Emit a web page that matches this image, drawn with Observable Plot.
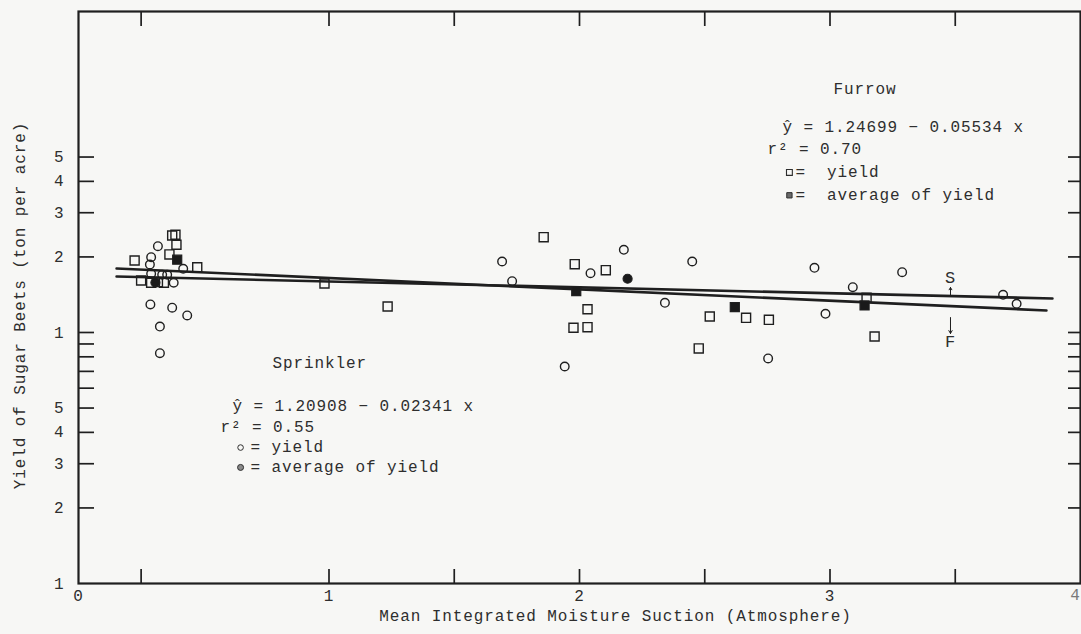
<!DOCTYPE html>
<html><head><meta charset="utf-8">
<script src="https://cdn.jsdelivr.net/npm/d3@7"></script>
<script src="https://cdn.jsdelivr.net/npm/@observablehq/plot@0.6"></script>
<style>
html,body{margin:0;padding:0;background:#f7f7f5;}
</style></head><body><div id="chart"></div>
<script>
// Furrow yields (open squares)
const furrowX = [0.374,0.387,0.391,0.224,0.363,0.474,0.250,0.290,0.317,0.341,0.982,1.234,1.857,1.981,2.105,2.032,1.976,2.032,2.520,2.665,2.756,2.476,3.146,3.178];
const furrowY = [24.35,24.5,22.36,19.36,20.46,18.2,16.12,15.78,15.87,15.78,15.67,12.69,23.97,18.71,17.71,12.38,10.44,10.50,11.58,11.44,11.23,8.64,13.75,9.64];
// Furrow averages (filled squares)
const furrowAvgX = [0.394,1.987,2.620,3.138];
const furrowAvgY = [19.49,14.61,12.61,12.81];
// Sprinkler yields (open circles)
const sprinklerX = [0.317,0.290,0.285,0.418,0.290,0.334,0.354,0.380,0.287,0.374,0.434,0.325,0.325,1.691,1.731,2.044,2.177,2.341,2.450,1.941,2.753,2.938,3.288,3.091,2.982,3.691,3.745];
const sprinklerY = [22.07,19.95,18.66,17.94,17.13,16.98,16.98,15.78,12.93,12.55,11.69,10.56,8.27,19.18,16.01,17.23,21.35,13.13,19.18,7.32,7.88,18.1,17.39,15.15,11.87,14.13,13.01];
// Sprinkler averages (filled circles)
const sprinklerAvgX = [0.307,2.192];
const sprinklerAvgY = [15.82,16.37];
// Fitted lines (end points)
const furrowLineX = [0.152,3.864];
const furrowLineY = [17.99,12.24];
const sprinklerLineX = [0.152,3.888];
const sprinklerLineY = [16.72,13.66];
// Axis ticks
const xTickLabels = [0,1,2,3];
const xInnerTicks = [0.25,1,1.5,2,2.5,3,3.5];
const yTickLabels = [1,2,3,4,5,6,8,10,20,30,40,50];
const yInnerTicks = [2,3,4,5,6,7,8,9,10,20,30,40,50];

const zip = (xs, ys) => xs.map((x,i) => ({x, y: ys[i]}));
const furrow = zip(furrowX, furrowY);
const furrowAvg = zip(furrowAvgX, furrowAvgY);
const sprinkler = zip(sprinklerX, sprinklerY);
const sprinklerAvg = zip(sprinklerAvgX, sprinklerAvgY);
const furrowLine = zip(furrowLineX, furrowLineY);
const sprinklerLine = zip(sprinklerLineX, sprinklerLineY);

const ink = "#1f1f1f";
const txt = "#2e2e2e";

const chart = Plot.plot({
  width: 1081,
  height: 634,
  marginLeft: 78,
  marginRight: 1,
  marginTop: 11,
  marginBottom: 51,
  style: {fontFamily: "'Liberation Mono', 'DejaVu Sans Mono', monospace", fontSize: "16px", letterSpacing: "0.9px", background: "#f7f7f5", color: txt},
  x: {domain: [0, 4]},
  y: {type: "log", domain: [1, 190]},
  marks: [
    Plot.frame({stroke: ink, strokeWidth: 2.2}),
    // inner tick marks
    Plot.axisY({ticks: yInnerTicks, tickSize: 16, dx: 16, tickFormat: () => "", label: null, stroke: ink, strokeWidth: 1.7}),
    Plot.axisY({anchor: "right", ticks: yInnerTicks, tickSize: 13, dx: -13, tickFormat: () => "", label: null, stroke: ink, strokeWidth: 1.7}),
    Plot.axisX({anchor: "top", ticks: xInnerTicks, tickSize: 14, dy: 14, tickFormat: () => "", label: null, stroke: ink, strokeWidth: 1.7}),
    Plot.axisX({anchor: "bottom", ticks: xInnerTicks, tickSize: 14, dy: -14, tickFormat: () => "", label: null, stroke: ink, strokeWidth: 1.7}),
    // tick labels
    Plot.axisY({ticks: yTickLabels, tickSize: 0, tickPadding: 14, tickFormat: d => String(d >= 10 ? d / 10 : d), label: null, fill: txt}),
    Plot.axisX({ticks: xTickLabels, tickSize: 0, tickPadding: 6, tickFormat: d => String(d), label: null, fill: txt}),
    Plot.text([4], {x: d => d, frameAnchor: "bottom", dy: 16, dx: -5, fill: "#7a7a7a", text: d => String(d)}),
    // axis titles
    Plot.text(["Yield of Sugar Beets (ton per acre)"], {frameAnchor: "left", textAnchor: "middle", dx: -59, dy: 8, rotate: -90, fill: txt}),
    Plot.text(["Mean Integrated Moisture Suction (Atmosphere)"], {frameAnchor: "bottom", dx: 36, dy: 37, lineAnchor: "bottom", fill: txt}),
    // fitted lines
    Plot.line(furrowLine, {x: "x", y: "y", stroke: ink, strokeWidth: 2.6}),
    Plot.line(sprinklerLine, {x: "x", y: "y", stroke: ink, strokeWidth: 2.6}),
    // points
    Plot.dot(furrow, {x: "x", y: "y", symbol: "square", r: 5.1, stroke: ink, strokeWidth: 1.4, fill: "none"}),
    Plot.dot(sprinkler, {x: "x", y: "y", symbol: "circle", r: 4.3, stroke: ink, strokeWidth: 1.4, fill: "none"}),
    Plot.dot(furrowAvg, {x: "x", y: "y", symbol: "square", r: 5.1, stroke: ink, strokeWidth: 1.2, fill: "#1a1a1a"}),
    Plot.dot(sprinklerAvg, {x: "x", y: "y", symbol: "circle", r: 4.5, stroke: ink, strokeWidth: 1.2, fill: "#1a1a1a"}),
    // S / F labels with arrows
    Plot.text(["S"], {x: 3.481, y: 16.52, fill: txt, fontSize: 17}),
    Plot.arrow([{x1: 3.481, y1: 14.04, x2: 3.481, y2: 15.11}], {x1: "x1", y1: "y1", x2: "x2", y2: "y2", stroke: ink, strokeWidth: 1, headLength: 5}),
    Plot.text(["F"], {x: 3.481, y: 9.21, fill: txt, fontSize: 17}),
    Plot.arrow([{x1: 3.481, y1: 11.47, x2: 3.481, y2: 9.91}], {x1: "x1", y1: "y1", x2: "x2", y2: "y2", stroke: ink, strokeWidth: 1, headLength: 5}),
    // Furrow legend
    Plot.text(["Furrow"], {x: 3.014, y: 88.8, textAnchor: "start", lineAnchor: "bottom", fill: txt}),
    Plot.text(["ŷ = 1.24699 − 0.05534 x"], {x: 2.810, y: 62.8, textAnchor: "start", lineAnchor: "bottom", fill: txt}),
    Plot.text(["r² = 0.70"], {x: 2.750, y: 51.2, textAnchor: "start", lineAnchor: "bottom", fill: txt}),
    Plot.dot([{x: 2.838, y: 43.4}], {x: "x", y: "y", symbol: "square", r: 3.3, stroke: txt, strokeWidth: 1.1, fill: "none"}),
    Plot.text(["=  yield"], {x: 2.862, y: 41.6, textAnchor: "start", lineAnchor: "bottom", fill: txt}),
    Plot.dot([{x: 2.838, y: 35.2}], {x: "x", y: "y", symbol: "square", r: 3.0, stroke: txt, strokeWidth: 1, fill: "#6a6a6a"}),
    Plot.text(["=  average of yield"], {x: 2.862, y: 33.6, textAnchor: "start", lineAnchor: "bottom", fill: txt}),
    // Sprinkler legend
    Plot.text(["Sprinkler"], {x: 0.774, y: 7.19, textAnchor: "start", lineAnchor: "bottom", fill: txt}),
    Plot.text(["ŷ = 1.20908 − 0.02341 x"], {x: 0.615, y: 4.86, textAnchor: "start", lineAnchor: "bottom", fill: txt}),
    Plot.text(["r² = 0.55"], {x: 0.567, y: 4.01, textAnchor: "start", lineAnchor: "bottom", fill: txt}),
    Plot.dot([{x: 0.647, y: 3.48}], {x: "x", y: "y", symbol: "circle", r: 2.8, stroke: txt, strokeWidth: 1, fill: "none"}),
    Plot.text(["= yield"], {x: 0.687, y: 3.335, textAnchor: "start", lineAnchor: "bottom", fill: txt}),
    Plot.dot([{x: 0.647, y: 2.90}], {x: "x", y: "y", symbol: "circle", r: 3.0, stroke: txt, strokeWidth: 1, fill: "#8a8a8a"}),
    Plot.text(["= average of yield"], {x: 0.687, y: 2.776, textAnchor: "start", lineAnchor: "bottom", fill: txt})
  ]
});
document.getElementById("chart").appendChild(chart);
</script>
</body></html>
